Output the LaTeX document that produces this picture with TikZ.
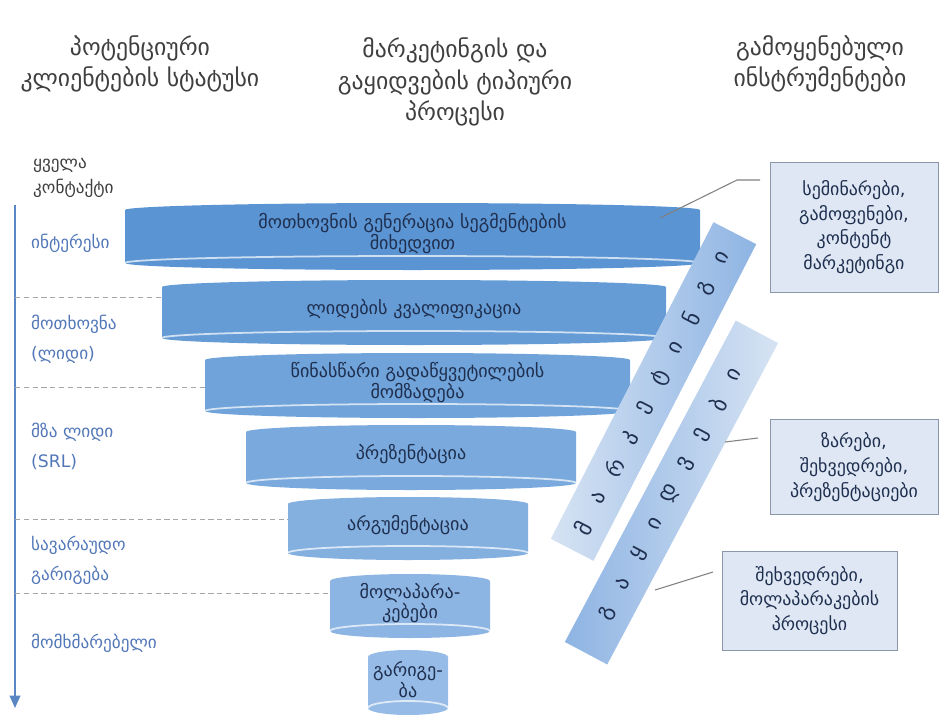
\documentclass[tikz,border=0pt]{standalone}
\usepackage{fontspec}
\setmainfont{DejaVu Sans}
\usetikzlibrary{arrows.meta,calc}

\definecolor{headgray}{HTML}{3F3F3F}
\definecolor{stageblue}{HTML}{5277B8}
\definecolor{axisblue}{HTML}{5A86C4}
\definecolor{guidegray}{HTML}{A6A6A6}
\definecolor{inkblue}{HTML}{1F2F4F}
\definecolor{boxfill}{HTML}{DEE7F3}
\definecolor{boxline}{HTML}{8A97A8}
\definecolor{barlight}{HTML}{D6E3F3}
\definecolor{bardark}{HTML}{8EB4E3}

\tikzset{
  heading/.style={align=center, text=headgray, font=\fontsize{13.5}{18}\selectfont},
  stage/.style={anchor=west, align=left, text=stageblue, font=\fontsize{9.8}{17}\selectfont},
  layertext/.style={align=center, text=inkblue, font=\fontsize{10.3}{11}\selectfont},
  toolbox/.style={draw=boxline, fill=boxfill, align=center, text=inkblue,
    font=\fontsize{10.2}{14}\selectfont, inner sep=0pt},
  barbox/.style={minimum height=9.6mm, inner sep=0pt},
  barletter/.style={text=inkblue, font=\fontsize{12.5}{12}\selectfont, inner sep=0pt},
  guide/.style={guidegray, densely dashed, line width=0.5pt},
  leader/.style={draw=gray, line width=0.6pt}
}

\begin{document}
\begin{tikzpicture}[x=0.2mm, y=-0.2mm]
\useasboundingbox (0,0) rectangle (939,718);

% column headings
\node[heading] (hstatus) at (140,64) {პოტენციური\\კლიენტების სტატუსი};
\node[heading] (hprocess) at (455,82) {მარკეტინგის და\\გაყიდვების ტიპიური\\პროცესი};
\node[heading] (htools) at (820,64) {გამოყენებული\\ინსტრუმენტები};

% client stages
\node[stage, text=headgray, font=\fontsize{9.8}{14}\selectfont] (sall) at (27,178) {ყველა\\კონტაქტი};
\node[stage] (sint) at (25,243) {ინტერესი};
\node[stage] (sreq) at (25,339) {მოთხოვნა\\(ლიდი)};
\node[stage] (ssrl) at (25,446) {მზა ლიდი\\(SRL)};
\node[stage] (sdeal) at (25,560) {სავარაუდო\\გარიგება};
\node[stage] (scust) at (25,643) {მომხმარებელი};

\coordinate (atop) at (15,205);
\coordinate (abot) at (15,708);
\draw[axisblue, line width=1pt, -{Triangle[length=7pt,width=6pt]}] (atop) -- (abot);

\foreach \gy/\gx [count=\g] in {297/163, 387/206, 519/289, 593/331} {
  \coordinate (ga\g) at (15,\gy);
  \coordinate (gb\g) at (\gx,\gy);
  \draw[guide] (ga\g) -- (gb\g);
}

% funnel
\foreach \xa/\xb/\ya/\yb/\fc/\txt [count=\i] in {
  125/700/203/270/5B94D2/{მოთხოვნის გენერაცია სეგმენტების\\მიხედვით},
  162/666/280/345/659CD6/{ლიდების კვალიფიკაცია},
  205/630/353/418/6FA3D9/{წინასწარი გადაწყვეტილების\\მომზადება},
  246/576/425/490/7AAADD/{პრეზენტაცია},
  288/528/497/560/84B0E0/{არგუმენტაცია},
  330/490/574/638/8DB5E3/{მოლაპარა-\\კებები},
  368/448/650/715/96BBE6/{გარიგე-\\ბა}} {
  \definecolor{lc}{HTML}{\fc}
  \pgfmathsetmacro\lcx{(\xa+\xb)/2}
  \pgfmathsetmacro\lrx{(\xb-\xa)/2}
  \fill[lc] (\xa,\ya+7) -- (\xa,\yb-7)
    arc[start angle=180, end angle=0, x radius=\lrx, y radius=7]
    -- (\xb,\ya+7)
    arc[start angle=0, end angle=-180, x radius=\lrx, y radius=7] -- cycle;
  \draw[white, opacity=0.7, line width=1pt] (\xa,\yb-7)
    arc[start angle=180, end angle=360, x radius=\lrx, y radius=7];
  \node[layertext] (layer\i) at (\lcx,{(\ya+\yb)/2-3}) {\txt};
}

% marketing and sales bars
\node[barbox, rotate=62.8, minimum width=71.2mm, left color=barlight, right color=bardark]
  (mktbar) at (653.5,391.5) {};
\node[barbox, rotate=62, minimum width=72.8mm, left color=bardark, right color=barlight]
  (salebar) at (671.5,492.5) {};

\foreach \l [count=\k] in {მ,ა,რ,კ,ე,ტ,ი,ნ,გ,ი} {
  \pgfmathsetmacro\tk{0.07+(\k-1)*0.0946}
  \node[barletter, rotate=62.8] (mk\k) at ($(mktbar.west)!\tk!(mktbar.east)$) {\l};
}
\foreach \l [count=\k] in {გ,ა,ყ,ი,დ,ვ,ე,ბ,ი} {
  \pgfmathsetmacro\tk{0.124+(\k-1)*0.0927}
  \node[barletter, rotate=62] (sl\k) at ($(salebar.west)!\tk!(salebar.east)$) {\l};
}

% tools
\node[toolbox, minimum width=33.6mm, minimum height=26mm] (tmkt) at (854,227)
  {სემინარები,\\გამოფენები,\\კონტენტ\\მარკეტინგი};
\node[toolbox, minimum width=33.6mm, minimum height=19mm] (tcall) at (854,467)
  {ზარები,\\შეხვედრები,\\პრეზენტაციები};
\node[toolbox, minimum width=35mm, minimum height=19.8mm] (tmeet) at (809.5,600.5)
  {შეხვედრები,\\მოლაპარაკების\\პროცესი};

\coordinate (l1a) at (660,218);
\coordinate (l1b) at (737,180);
\coordinate (l1c) at (760,180);
\draw[leader] (l1a) -- (l1b) -- (l1c);
\coordinate (l2a) at (725,442);
\coordinate (l2b) at (758,438);
\draw[leader] (l2a) -- (l2b);
\coordinate (l3a) at (655,590);
\coordinate (l3b) at (713,572);
\draw[leader] (l3a) -- (l3b);

\end{tikzpicture}
\end{document}
